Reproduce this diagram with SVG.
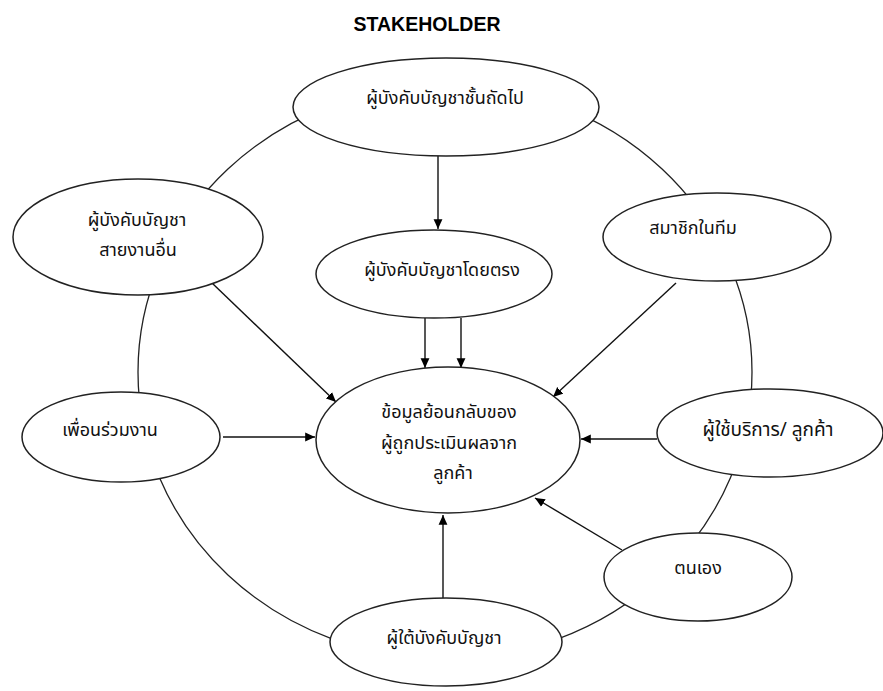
<svg xmlns="http://www.w3.org/2000/svg" width="883" height="691" viewBox="0 0 883 691">
<style>
.bg{fill:#fff}
.ring{fill:none;stroke:#222;stroke-width:1.3}
.node{fill:#fff;stroke:#222;stroke-width:1.5}
.edge{stroke:#111;stroke-width:1.4;fill:none;marker-end:url(#ah)}
.t{font-family:"Noto Sans Thai","Tahoma","Noto Sans","DejaVu Sans",sans-serif;font-size:18px;fill:#111;text-anchor:middle}
.title{font-family:"Liberation Sans",Arial,sans-serif;font-size:19.5px;font-weight:bold;fill:#000;text-anchor:middle}
</style>
<defs>
<marker id="ah" viewBox="0 0 10 10" refX="10" refY="5" markerWidth="7" markerHeight="7" markerUnits="strokeWidth" orient="auto">
<path d="M0,0.5 L10,5 L0,9.5 z" fill="#000"/>
</marker>
</defs>
<rect class="bg" x="0" y="0" width="883" height="691"/>
<text class="title" x="427" y="31">STAKEHOLDER</text>
<ellipse class="ring" cx="445" cy="372" rx="307" ry="287"/>
<g id="connectors">
<line class="edge" x1="438" y1="156" x2="438" y2="229"/>
<line class="edge" x1="425" y1="318" x2="425" y2="368"/>
<line class="edge" x1="461" y1="318" x2="461" y2="368"/>
<line class="edge" x1="212" y1="283" x2="336" y2="402"/>
<line class="edge" x1="676" y1="283" x2="553" y2="397"/>
<line class="edge" x1="223" y1="437" x2="315" y2="437"/>
<line class="edge" x1="657" y1="439" x2="581" y2="439"/>
<line class="edge" x1="622" y1="550" x2="535" y2="498"/>
<line class="edge" x1="443" y1="598" x2="443" y2="515"/>
</g>
<g id="n-next">
<ellipse class="node" cx="446" cy="107" rx="153" ry="49"/>
<text class="t" x="445" y="104">ผู้บังคับบัญชาชั้นถัดไป</text>
</g>
<g id="n-direct">
<ellipse class="node" cx="434" cy="274" rx="118" ry="44"/>
<text class="t" x="442" y="276">ผู้บังคับบัญชาโดยตรง</text>
</g>
<g id="n-other">
<ellipse class="node" cx="138" cy="237" rx="125" ry="58"/>
<text class="t" x="137" y="226">ผู้บังคับบัญชา</text>
<text class="t" x="138" y="256">สายงานอื่น</text>
</g>
<g id="n-team">
<ellipse class="node" cx="717" cy="237" rx="114" ry="44"/>
<text class="t" x="693" y="234">สมาชิกในทีม</text>
</g>
<g id="n-peer">
<ellipse class="node" cx="121" cy="437" rx="99" ry="45"/>
<text class="t" x="110" y="436">เพื่อนร่วมงาน</text>
</g>
<g id="n-center">
<ellipse class="node" cx="448" cy="440" rx="132" ry="73"/>
<text class="t" x="449" y="418">ข้อมูลย้อนกลับของ</text>
<text class="t" x="449" y="449">ผู้ถูกประเมินผลจาก</text>
<text class="t" x="453" y="479">ลูกค้า</text>
</g>
<g id="n-customer">
<ellipse class="node" cx="770" cy="433" rx="113" ry="44"/>
<text class="t" x="768" y="436" style="font-size:19px">ผู้ใช้บริการ/ ลูกค้า</text>
</g>
<g id="n-self">
<ellipse class="node" cx="698" cy="577" rx="94" ry="44"/>
<text class="t" x="698" y="574">ตนเอง</text>
</g>
<g id="n-sub">
<ellipse class="node" cx="446" cy="642" rx="116" ry="44"/>
<text class="t" x="444" y="644">ผู้ใต้บังคับบัญชา</text>
</g>
</svg>
